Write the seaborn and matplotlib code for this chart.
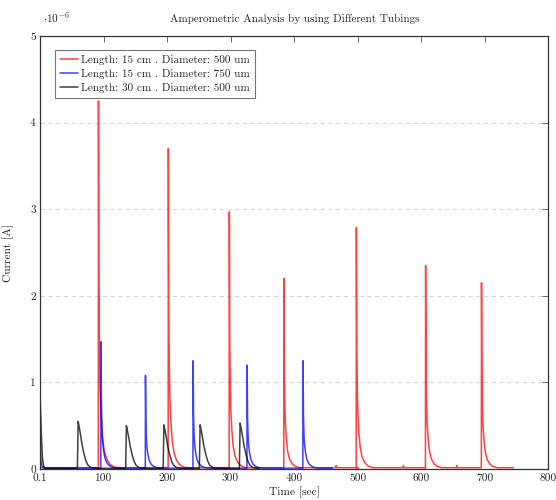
import numpy as np
import pandas as pd
import matplotlib
matplotlib.use("Agg")
import matplotlib.pyplot as plt
import seaborn as sns

# ---- data (current in units of 1e-6 A, time in s) ----
red_peak_time = [92, 202, 298, 384, 498, 607, 695]
red_peak_height = [4.25, 3.70, 2.97, 2.20, 2.79, 2.35, 2.15]
red_bump_time = [466, 572, 656]
red_bump_height = [0.04, 0.04, 0.04]
blue_peak_time = [96, 166, 241, 326, 414]
blue_peak_height = [1.47, 1.08, 1.25, 1.20, 1.25]
black_peak_time = [60, 136, 195, 252, 315]
black_peak_height = [0.55, 0.50, 0.51, 0.51, 0.53]

blue_start_spike = 0.80
black_start_spike = 0.83
red_end, blue_end, black_end = 745, 460, 345
red_base, blue_base, black_base = 0.015, 0.010, 0.008

# decay shapes (seconds after peak, fraction of peak)
fast_decay_dt = [0, 0.7, 1.5, 2.5, 4, 6, 9, 13, 18, 25, 35]
fast_decay_frac = [1, 0.5, 0.32, 0.22, 0.15, 0.09, 0.05, 0.027, 0.013, 0.005, 0.002]
slow_decay_dt = [0, 1, 2, 4, 6, 9, 12, 15, 20, 28]
slow_decay_frac = [1, 0.93, 0.85, 0.7, 0.52, 0.33, 0.18, 0.09, 0.03, 0.01]

legend_labels = ["Length: 15 cm . Diameter: 500 um",
                 "Length: 15 cm . Diameter: 750 um",
                 "Length: 30 cm . Diameter: 500 um"]
x_ticks = [0.1, 100, 200, 300, 400, 500, 600, 700, 800]
x_tick_labels = ["0.1", "100", "200", "300", "400", "500", "600", "700", "800"]
y_ticks = [0, 1, 2, 3, 4, 5]


def trace(end, times, heights, dts, fracs, base, rise, spike=None):
    t, y = [0.1], [spike if spike else base]
    if spike:
        for d, f in zip(dts[1:], fracs[1:]):
            t.append(0.1 + d * 0.3)
            y.append(max(spike * f, base))
    for pt, h in sorted(zip(times, heights)):
        t.append(pt - rise); y.append(base)
        for d, f in zip(dts, fracs):
            t.append(pt + d); y.append(max(h * f, base))
    t.append(end); y.append(base)
    return pd.DataFrame({"t": t, "i": y})


red_df = trace(red_end, red_peak_time + red_bump_time, red_peak_height + red_bump_height,
               fast_decay_dt, fast_decay_frac, red_base, 0.3)
blue_df = trace(blue_end, blue_peak_time, blue_peak_height,
                fast_decay_dt, fast_decay_frac, blue_base, 0.3, blue_start_spike)
black_df = trace(black_end, black_peak_time, black_peak_height,
                 slow_decay_dt, slow_decay_frac, black_base, 1.2, black_start_spike)

sns.set_theme(style="white")
plt.rcParams["font.family"] = ["cmr10", "DejaVu Serif"]
plt.rcParams["mathtext.fontset"] = "cm"
plt.rcParams["axes.unicode_minus"] = False
plt.rcParams["axes.formatter.use_mathtext"] = True

fig = plt.figure(figsize=(5.56, 5.0), dpi=100)
ax = fig.add_axes([0.072, 0.062, 0.914, 0.866])

for df, col, lab in [(red_df, "#ff0000", legend_labels[0]),
                     (blue_df, "#0000ff", legend_labels[1]),
                     (black_df, "#000000", legend_labels[2])]:
    sns.lineplot(data=df, x="t", y="i", color=col, label=lab, ax=ax,
                 estimator=None, sort=False, lw=1.1, alpha=0.75)

ax.set_xlim(0, 800)
ax.set_ylim(0, 5)
ax.set_xticks(x_ticks)
ax.set_xticklabels(x_tick_labels)
ax.set_yticks(y_ticks)
ax.set_yticklabels([str(v) for v in y_ticks])
ax.tick_params(direction="in", length=4, width=0.6, color="#555555",
               top=True, right=True, labelsize=8.2, pad=3)
ax.yaxis.grid(True, linestyle=(0, (4, 3)), color="#d6d6d6", lw=0.8)
ax.xaxis.grid(False)
for s in ax.spines.values():
    s.set_color("#333333")
    s.set_linewidth(0.9)

ax.set_xlabel("Time [sec]", fontsize=8.2)
ax.set_ylabel("Current [A]", fontsize=8.2)
ax.xaxis.set_label_coords(0.5, -0.04)
ax.yaxis.set_label_coords(-0.052, 0.5)

fig.text(0.531, 0.962, "Amperometric Analysis by using Different Tubings",
         ha="center", va="center", fontsize=8)
fig.text(0.077, 0.965, r"$\cdot 10^{-6}$", ha="left", va="center", fontsize=8.2)

leg = ax.legend(loc="upper left", bbox_to_anchor=(0.03, 0.968), borderaxespad=0,
                fontsize=8, frameon=True, fancybox=False, framealpha=1,
                edgecolor="#777777", handlelength=1.6, handletextpad=0.3,
                borderpad=0.45, labelspacing=0.35)
leg.get_frame().set_linewidth(0.8)

fig.savefig("out.png", dpi=100)
